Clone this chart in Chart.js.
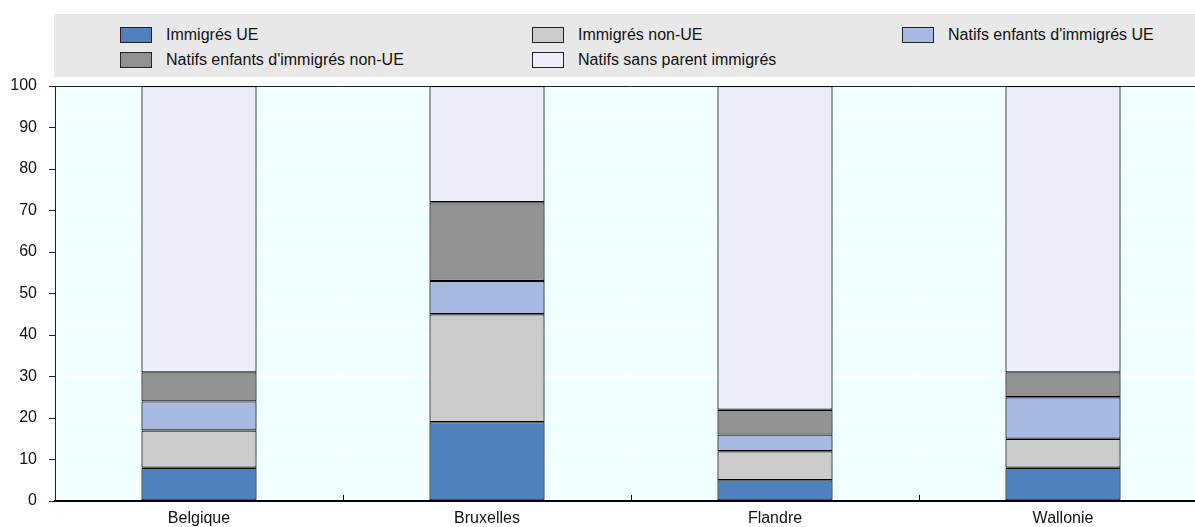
<!DOCTYPE html>
<html>
<head>
<meta charset="utf-8">
<script src="https://cdn.jsdelivr.net/npm/chart.js@4"></script>
<style>
  body { margin: 0; background: #fff; font-family: "Liberation Sans", Arial, sans-serif; overflow: hidden; }
  #wrap { position: relative; width: 1195px; height: 527px; overflow: hidden; }
  #chart { position: absolute; left: 0; top: 0; }
  #legende { position: absolute; left: 54px; top: 14px; width: 1141px; height: 63px; background: #e8e8e8; }
  .item { position: absolute; font-size: 16px; color: #111; white-space: nowrap; line-height: 16px; }
  .item span.box { position: absolute; left: -46px; top: 0px; width: 30px; height: 14px; border: 1px solid #222; }
</style>
</head>
<body>
<div id="wrap">
  <canvas id="chart" width="1207" height="527"></canvas>
  <div id="legende"></div>
</div>
<script>
// donnees
const regions = ["Belgique", "Bruxelles", "Flandre", "Wallonie"];
const immigresUE = [8, 19, 5, 8];
const immigresNonUE = [9, 26, 7, 7];
const natifsEnfantsUE = [7, 8, 4, 10];
const natifsEnfantsNonUE = [7, 19, 6, 6];
const natifsSansParent = [69, 28, 78, 69];
const yTicks = [0, 10, 20, 30, 40, 50, 60, 70, 80, 90, 100];

const series = [
    { label: "Immigrés UE", data: immigresUE, color: "#4e81bd" },
    { label: "Immigrés non-UE", data: immigresNonUE, color: "#cccccc" },
    { label: "Natifs enfants d'immigrés UE", data: natifsEnfantsUE, color: "#a7b9e3" },
    { label: "Natifs enfants d'immigrés non-UE", data: natifsEnfantsNonUE, color: "#929292" },
    { label: "Natifs sans parent immigrés", data: natifsSansParent, color: "#ebeef8" }
]

// legende html, 3 colonnes
const posLegende = [[112, 13], [524, 13], [894, 13], [112, 38], [524, 38]];
const legende = document.getElementById("legende");
series.forEach((s, i) => {
    const div = document.createElement("div");
    div.className = "item";
    div.style.left = posLegende[i][0] + "px";
    div.style.top = posLegende[i][1] + "px";
    div.innerHTML = '<span class="box" style="background:' + s.color + '"></span>' + s.label;
    legende.appendChild(div);
})

const fondZone = {
    id: "fondZone",
    beforeDraw(chart) {
        const { ctx, chartArea } = chart;
        ctx.save();
        ctx.fillStyle = "#f0ffff";
        ctx.fillRect(chartArea.left, chartArea.top, chartArea.right - chartArea.left, chartArea.bottom - chartArea.top);
        ctx.restore();
    },
    afterDatasetsDraw(chart) {
        // petites graduations vers l'interieur entre les categories
        const { ctx, chartArea, scales } = chart;
        ctx.save();
        ctx.strokeStyle = "#000";
        ctx.lineWidth = 1;
        for (let i = 1; i < regions.length; i++) {
            const x = Math.round((scales.x.getPixelForValue(i - 1) + scales.x.getPixelForValue(i)) / 2) + 0.5;
            ctx.beginPath();
            ctx.moveTo(x, chartArea.bottom - 6);
            ctx.lineTo(x, chartArea.bottom);
            ctx.stroke();
        }
        ctx.restore();
    }
}

const config = {
    type: "bar",
    data: {
        labels: regions,
        datasets: series.map((s) => {
            return {
                label: s.label,
                data: s.data,
                backgroundColor: s.color,
                borderColor: "#000",
                borderWidth: 1.2,
                borderSkipped: false,
                categoryPercentage: 1,
                barPercentage: 0.4
            }
        })
    },
    options: {
        responsive: false,
        animation: false,
        layout: { padding: { top: 86, left: 0, right: 0, bottom: 0 } },
        plugins: { legend: { display: false }, tooltip: { enabled: false } },
        scales: {
            x: {
                stacked: true,
                grid: { color: "#ffffff", drawTicks: false, offset: true },
                border: { color: "#000", width: 2 },
                ticks: { color: "#111", font: { family: "Liberation Sans", size: 16 }, padding: 8 },
                afterFit: (axis) => { axis.height = 26; }
            },
            y: {
                stacked: true,
                min: 0,
                max: 100,
                afterBuildTicks: (axis) => { axis.ticks = yTicks.map((v) => ({ value: v })); },
                grid: {
                    color: (ctx) => (ctx.tick && ctx.tick.value === 100 ? "#222" : "#ffffff"),
                    tickColor: "#222",
                    tickLength: 6
                },
                border: { color: "#222", width: 1 },
                ticks: { color: "#111", font: { family: "Liberation Sans", size: 16 }, padding: 12 },
                afterFit: (axis) => { axis.width = 55; }
            }
        }
    },
    plugins: [fondZone]
}

new Chart(document.getElementById("chart"), config);
</script>
</body>
</html>
